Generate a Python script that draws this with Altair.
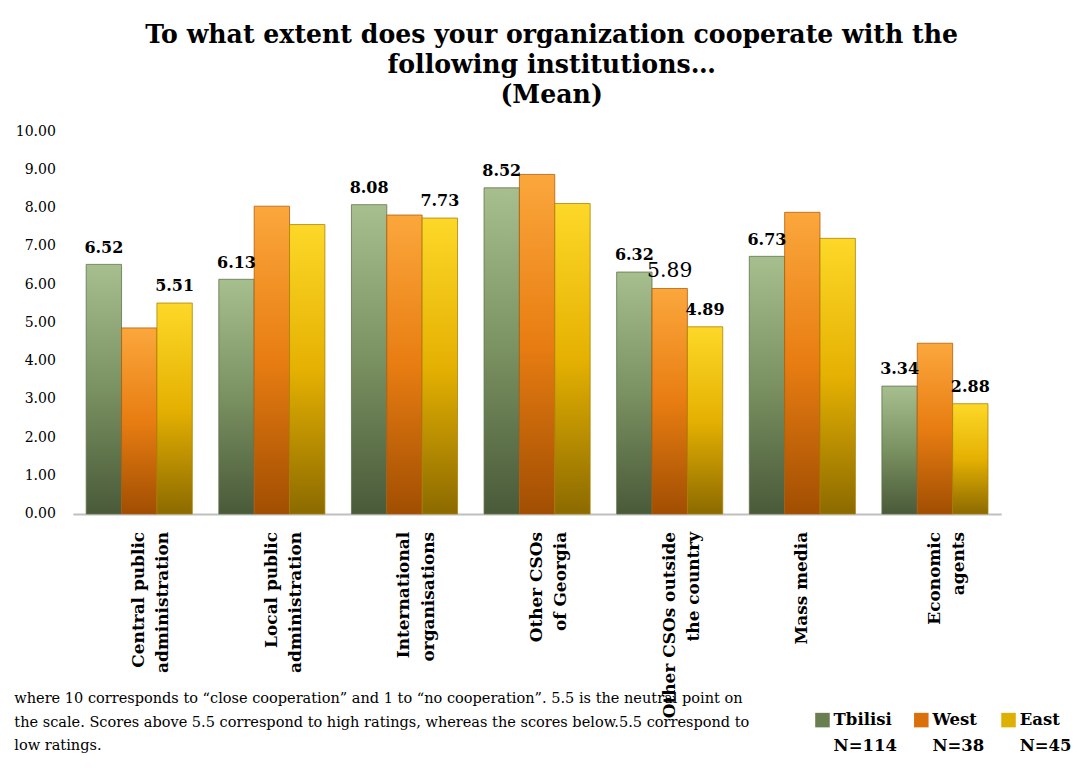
import json
import altair as alt
import pandas as pd

# ---- data ----
categories = [
    "Central public administration",
    "Local public administration",
    "International organisations",
    "Other CSOs of Georgia",
    "Other CSOs outside the country",
    "Mass media",
    "Economic agents",
]
category_lines = [
    ["Central public", "administration"],
    ["Local public", "administration"],
    ["International", "organisations"],
    ["Other CSOs", "of Georgia"],
    ["Other CSOs outside", "the country"],
    ["Mass media"],
    ["Economic", "agents"],
]
series = ["Tbilisi", "West", "East"]
series_n = ["N=114", "N=38", "N=45"]

tbilisi = [6.52, 6.13, 8.08, 8.52, 6.32, 6.73, 3.34]
west = [4.86, 8.04, 7.81, 8.87, 5.89, 7.88, 4.46]
east = [5.51, 7.56, 7.73, 8.11, 4.89, 7.20, 2.88]

# which values carry a data label in the reference
tbilisi_shown = [True, True, True, True, True, True, True]
west_shown = [False, False, False, False, True, False, False]
east_shown = [True, False, True, False, True, False, True]
# the one label drawn in a plain (non-bold) larger font
west_plain = [False, False, False, False, True, False, False]

title_lines = [
    "To what extent does your organization cooperate with the",
    "following institutions…",
    "(Mean)",
]
note_lines = [
    "where 10 corresponds to “close cooperation” and 1 to “no cooperation”. 5.5 is the neutral point on",
    "the scale. Scores above 5.5 correspond to high ratings, whereas the scores below.5.5 correspond to",
    "low ratings.",
]
y_ticks = [0, 1, 2, 3, 4, 5, 6, 7, 8, 9, 10]

# ---- tables ----
rows = []
values = {"Tbilisi": tbilisi, "West": west, "East": east}
shown = {"Tbilisi": tbilisi_shown, "West": west_shown, "East": east_shown}
plain = {"Tbilisi": [False] * 7, "West": west_plain, "East": [False] * 7}
for s in series:
    for i, c in enumerate(categories):
        rows.append({
            "category": c,
            "series": s,
            "value": values[s][i],
            "shown": shown[s][i],
            "plain": plain[s][i],
        })
df = pd.DataFrame(rows)

# ---- styling ----
SERIF = "DejaVu Serif"
gradients = {
    "Tbilisi": ["#a7bf8e", "#7a9161", "#495a39"],
    "West": ["#fba73c", "#e87d12", "#a14e02"],
    "East": ["#fdd828", "#e5b102", "#8c6a00"],
}
strokes = {"Tbilisi": "#5f7048", "West": "#b35a08", "East": "#a88200"}
# legend: three coloured entries, then the three sample sizes as a second row
legend_domain = series + series_n
legend_colors = ["#6a7f50", "#d9700c", "#deb004",
                 "rgba(0,0,0,0)", "rgba(0,0,0,0)", "rgba(0,0,0,0)"]


def grad(cols):
    return alt.Gradient(
        gradient="linear",
        stops=[
            alt.GradientStop(color=cols[0], offset=0),
            alt.GradientStop(color=cols[1], offset=0.5),
            alt.GradientStop(color=cols[2], offset=1),
        ],
        x1=0, x2=0, y1=0, y2=1,
    )


label_expr = " : ".join(
    f"datum.value == {json.dumps(c)} ? {json.dumps(l)}" for c, l in zip(categories, category_lines)
) + " : datum.value"

x_enc = alt.X(
    "category:N",
    sort=categories,
    scale=alt.Scale(domain=categories, paddingInner=0.2, paddingOuter=0.1),
    axis=alt.Axis(
        labelAngle=-90,
        labelAlign="right",
        labelBaseline="middle",
        labelFont=SERIF,
        labelFontWeight="bold",
        labelFontSize=17.5,
        labelLineHeight=25,
        labelPadding=18,
        labelLimit=400,
        labelColor="#000000",
        labelExpr=label_expr,
        ticks=False,
        domainColor="#bfbfbf",
        domainWidth=2,
        title=note_lines,
        titleFont=SERIF,
        titleFontSize=15,
        titleFontWeight="normal",
        titleColor="#000000",
        titleLineHeight=24,
        titleAnchor="start",
        titleAlign="left",
        titleBaseline="top",
        titleX=-61,
        titleY=183,
    ),
)
xoff = alt.XOffset("series:N", sort=series, scale=alt.Scale(domain=series))
y_enc = alt.Y(
    "value:Q",
    scale=alt.Scale(domain=[0, 10], nice=False),
    axis=alt.Axis(
        values=y_ticks,
        format=".2f",
        labelFont=SERIF,
        labelFontSize=14.5,
        labelColor="#000000",
        labelPadding=18,
        ticks=False,
        domain=False,
        grid=False,
        minExtent=62,
        maxExtent=62,
        title=None,
    ),
)

layers = []
for s in series:
    layers.append(
        alt.Chart(df)
        .transform_filter(alt.datum.series == s)
        .mark_bar(fill=grad(gradients[s]), stroke=strokes[s], strokeWidth=1, strokeOpacity=0.8)
        .encode(x=x_enc, xOffset=xoff, y=y_enc)
    )

legend_layer = (
    alt.Chart(df)
    .mark_bar(opacity=0)
    .encode(
        x=x_enc,
        xOffset=xoff,
        y=y_enc,
        color=alt.Color(
            "series:N",
            scale=alt.Scale(domain=legend_domain, range=legend_colors),
            legend=alt.Legend(
                title=None,
                orient="none",
                direction="horizontal",
                columns=3,
                legendX=765,
                legendY=599,
                symbolType="square",
                symbolSize=225,
                symbolOpacity=1,
                symbolStrokeWidth=0,
                labelFont=SERIF,
                labelFontWeight="bold",
                labelFontSize=17,
                labelColor="#000000",
                labelOffset=3,
                columnPadding=16,
                rowPadding=9,
            ),
        ),
    )
)

bold_labels = (
    alt.Chart(df)
    .transform_filter("datum.shown && !datum.plain")
    .mark_text(font=SERIF, fontWeight="bold", fontSize=16.5, baseline="bottom", dy=-9, color="#000000")
    .encode(x=x_enc, xOffset=xoff, y=y_enc, text=alt.Text("value:Q", format=".2f"))
)
plain_labels = (
    alt.Chart(df)
    .transform_filter("datum.shown && datum.plain")
    .mark_text(font=SERIF, fontWeight="normal", fontSize=21, baseline="bottom", dy=-8, color="#000000")
    .encode(x=x_enc, xOffset=xoff, y=y_enc, text=alt.Text("value:Q", format=".2f"))
)

chart = (
    alt.layer(*layers, legend_layer, bold_labels, plain_labels)
    .properties(
        width=958,
        height=395,
        padding={"left": 5, "top": 3, "right": 0, "bottom": 0},
        title=alt.TitleParams(
            text=title_lines,
            font=SERIF,
            fontSize=26,
            fontWeight="bold",
            lineHeight=31,
            color="#000000",
            anchor="middle",
            dx=15,
            offset=16,
        ),
    )
    .configure_view(stroke=None)
)

chart.save("out.html", embed_options={"renderer": "svg", "actions": False})
